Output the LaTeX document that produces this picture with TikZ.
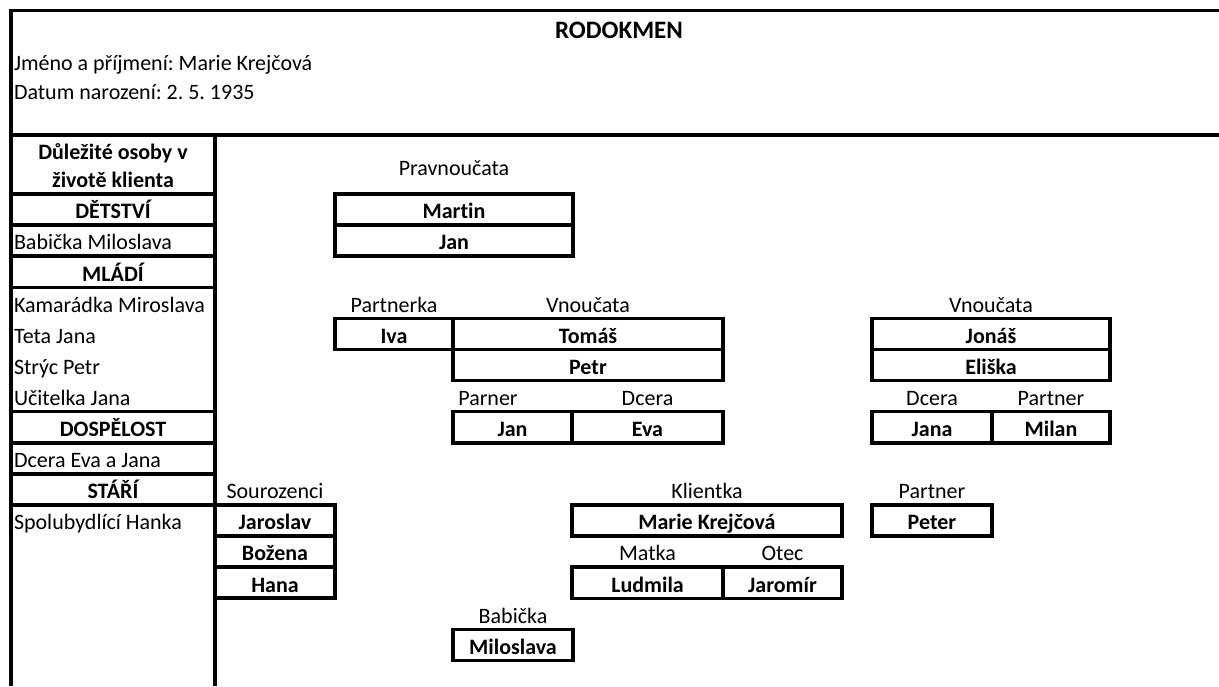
\documentclass[tikz,border=0pt]{standalone}
\usepackage{fontspec}
\setmainfont{Carlito}[Ligatures=NoCommon]
\usetikzlibrary{positioning}
\frenchspacing

\begin{document}
\begin{tikzpicture}[x=0.75pt,y=-0.75pt,
    lbl/.style={font=\fontsize{16.5}{21}\selectfont, text height=14pt, text depth=0pt, inner sep=0pt, outer sep=0pt},
    cell/.style={lbl, font=\fontsize{16.5}{21}\selectfont\bfseries, draw, line width=2.6pt, minimum height=23.3pt},
    frame/.style={line width=2.9pt, line join=miter}]
    \useasboundingbox (0,0) rectangle (1219,686);
    % frame of the sheet
    \draw[frame] (1219,10.5) -- (11,10.5) -- (11,686);
    \draw[frame] (11,135) -- (1219,135);
    \draw[frame] (215,135) -- (215,686);
    \node[lbl, anchor=base, font=\fontsize{18.8}{22}\selectfont\bfseries] (title) at (619,38) {RODOKMEN};
    \node[lbl, anchor=base west] (jmeno) at (14,70) {Jméno a příjmení: Marie Krejčová};
    \node[lbl, anchor=base west] (datum) at (14,99) {Datum narození: 2. 5. 1935};
    % left column
    \node[cell, minimum width=153.75pt] (detstvi) at (113,209.55) {DĚTSTVÍ};
    \node[anchor=south, align=center, inner sep=0pt, font=\fontsize{16.5}{21}\selectfont\bfseries] (osoby) at (113,188) {Důležité osoby v\\životě klienta};
    \node[lbl, anchor=west] (babickaMil) at (14,240.65) {Babička Miloslava};
    \node[cell, minimum width=153.75pt] (mladi) at (113,271.75) {MLÁDÍ};
    \node[lbl, anchor=west] (kamaradka) at (14,302.85) {Kamarádka Miroslava};
    \node[lbl, anchor=west] (teta) at (14,333.95) {Teta Jana};
    \node[lbl, anchor=west] (stryc) at (14,365.05) {Strýc Petr};
    \node[lbl, anchor=west] (ucitelka) at (14,396.15) {Učitelka Jana};
    \node[cell, minimum width=153.75pt] (dospelost) at (113,427.25) {DOSPĚLOST};
    \node[lbl, anchor=west] (dcery) at (14,458.35) {Dcera Eva a Jana};
    \node[cell, minimum width=153.75pt] (stari) at (113,489.45) {STÁŘÍ};
    \node[lbl, anchor=west] (hanka) at (14,520.55) {Spolubydlící Hanka};
    % great-grandchildren
    \node[cell, minimum width=178.5pt] (martin) at (454,209.55) {Martin};
    \node[cell, minimum width=178.5pt, below=0pt of martin] (janP) {Jan};
    \node[lbl, above=14pt of martin] (pravnoucata) {Pravnoučata};
    % grandchildren
    \node[cell, minimum width=88.5pt] (iva) at (394,333.95) {Iva};
    \node[cell, minimum width=202.5pt, right=0pt of iva] (tomas) {Tomáš};
    \node[cell, minimum width=202.5pt, below=0pt of tomas] (petr) {Petr};
    \node[lbl, above=4.7pt of iva] (partnerka) {Partnerka};
    \node[lbl, above=4.7pt of tomas] (vnoucata1) {Vnoučata};
    \node[cell, minimum width=89.25pt] (janE) at (512.5,427.25) {Jan};
    \node[cell, minimum width=113.25pt, right=0pt of janE] (eva) {Eva};
    \node[lbl, above right=4.7pt and 4pt of janE.north west] (parner) {Parner};
    \node[lbl, above=4.7pt of eva] (dceraE) {Dcera};
    \node[cell, minimum width=178.5pt] (jonas) at (991,333.95) {Jonáš};
    \node[cell, minimum width=178.5pt, below=0pt of jonas] (eliska) {Eliška};
    \node[lbl, above=4.7pt of jonas] (vnoucata2) {Vnoučata};
    \node[cell, minimum width=90pt] (jana) at (932,427.25) {Jana};
    \node[cell, minimum width=88.5pt, right=0pt of jana] (milan) {Milan};
    \node[lbl, above=4.7pt of jana] (dceraJ) {Dcera};
    \node[lbl, above=4.7pt of milan] (partnerJ) {Partner};
    % client, siblings, parents
    \node[cell, minimum width=90pt] (jaroslav) at (275,520.55) {Jaroslav};
    \node[cell, minimum width=90pt, below=0pt of jaroslav] (bozena) {Božena};
    \node[cell, minimum width=90pt, below=0pt of bozena] (hana) {Hana};
    \node[lbl, above=4.7pt of jaroslav] (sourozenci) {Sourozenci};
    \node[cell, minimum width=202.5pt] (marie) at (707,520.55) {Marie Krejčová};
    \node[lbl, above=4.7pt of marie] (klientka) {Klientka};
    \node[cell, minimum width=90pt] (peter) at (932,520.55) {Peter};
    \node[lbl, above=4.7pt of peter] (partnerP) {Partner};
    \node[cell, minimum width=113.25pt] (ludmila) at (647.5,582.75) {Ludmila};
    \node[cell, minimum width=89.25pt, right=0pt of ludmila] (jaromir) {Jaromír};
    \node[lbl, above=4.7pt of ludmila] (matka) {Matka};
    \node[lbl, above=4.7pt of jaromir] (otec) {Otec};
    \node[cell, minimum width=90pt] (miloslava) at (513,644.95) {Miloslava};
    \node[lbl, above=4.7pt of miloslava] (babicka) {Babička};
\end{tikzpicture}
\end{document}
